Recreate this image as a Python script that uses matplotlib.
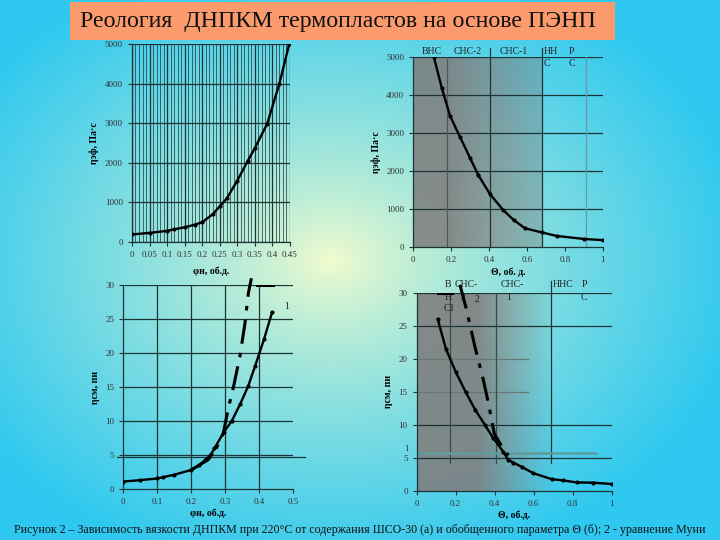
import numpy as np
import matplotlib
matplotlib.use("Agg")
import matplotlib.pyplot as plt
from matplotlib.patches import Rectangle

plt.rcParams['font.family'] = ['Liberation Serif', 'DejaVu Serif']

# --- data ---
phi_a = [0, 0.05, 0.1, 0.12, 0.15, 0.18, 0.2, 0.23, 0.25, 0.27, 0.3, 0.33, 0.35, 0.385, 0.42, 0.448]
eta_a = [190, 230, 280, 320, 370, 440, 500, 700, 900, 1100, 1550, 2050, 2370, 2980, 4000, 5000]

theta_b = [0.109, 0.15, 0.194, 0.246, 0.3, 0.343, 0.405, 0.475, 0.53, 0.59, 0.68, 0.757, 0.9, 1.0]
eta_b = [5000, 4200, 3460, 2910, 2350, 1900, 1400, 980, 720, 500, 390, 300, 220, 190]

phi_c = [0, 0.049, 0.1, 0.118, 0.15, 0.2, 0.224, 0.244, 0.259, 0.269, 0.297, 0.32, 0.345, 0.369, 0.389, 0.415, 0.439]
rel_c = [1.1, 1.3, 1.55, 1.75, 2.1, 2.8, 3.5, 4.4, 5.1, 6.0, 8.4, 10.0, 12.5, 15.2, 18.1, 22.0, 26.0]
phi_mooney = [0.2, 0.25, 0.27, 0.295, 0.31, 0.325, 0.344, 0.359, 0.369, 0.378]
rel_mooney = [2.8, 4.3, 5.5, 8.2, 11.9, 15.0, 19.5, 24.4, 28.8, 31.0]

theta_d = [0.108, 0.15, 0.2, 0.251, 0.3, 0.35, 0.393, 0.444, 0.47, 0.496, 0.542, 0.598, 0.692, 0.752, 0.82, 0.906, 1.0]
rel_d = [26.0, 21.5, 18.05, 15.0, 12.3, 10.0, 8.0, 5.95, 4.7, 4.3, 3.6, 2.7, 1.8, 1.6, 1.3, 1.26, 1.06]
theta_mooney = [0.222, 0.256, 0.299, 0.342, 0.368, 0.398, 0.427, 0.47]
rel_mooney_d = [31.2, 27.4, 21.8, 16.8, 13.3, 8.7, 7.2, 5.4]

xt_a = [0, 0.05, 0.1, 0.15, 0.2, 0.25, 0.3, 0.35, 0.4, 0.45]
xt_a_lbl = ['0', '0.05', '0.1', '0.15', '0.2', '0.25', '0.3', '0.35', '0.4', '0.45']
xt_c = [0, 0.1, 0.2, 0.3, 0.4, 0.5]
xt_c_lbl = ['0', '0.1', '0.2', '0.3', '0.4', '0.5']
xt_b = [0, 0.2, 0.4, 0.6, 0.8, 1.0]
xt_b_lbl = ['0', '0.2', '0.4', '0.6', '0.8', '1']

title = 'Реология  ДНПКМ термопластов на основе ПЭНП'
caption = ('Рисунок 2 – Зависимость вязкости ДНПКМ при 220°С от содержания ШСО-30 (а) '
           'и обобщенного параметра Θ (б); 2 - уравнение Муни')

fig = plt.figure(figsize=(7.2, 5.4), dpi=100)

# background radial gradient
bg = fig.add_axes([0, 0, 1, 1], zorder=-10)
yy, xx = np.mgrid[0:540, 0:720]
r = np.sqrt(((xx - 330) / 420.0) ** 2 + ((yy - 260) / 320.0) ** 2)
t = np.clip(r, 0, 1) ** 0.8
c_in = np.array([245, 252, 205]) / 255.0
c_out = np.array([46, 200, 240]) / 255.0
img = c_in[None, None, :] * (1 - t[..., None]) + c_out[None, None, :] * t[..., None]
bg.imshow(img, aspect='auto', extent=[0, 1, 0, 1])
bg.set_axis_off()

# title box
fig.patches.append(Rectangle((0.097, 0.926), 0.757, 0.070, transform=fig.transFigure,
                             facecolor='#fb9a6c', edgecolor='none', zorder=1))
fig.text(0.111, 0.961, title, fontsize=17.2, va='center', ha='left', color='#111111')
fig.text(0.5, 0.018, caption, fontsize=8.6, ha='center', va='center', color='#111111')

gcol = '#1c3436'
tick_kw = dict(labelsize=6.5, labelcolor='#333333', length=3, width=0.8, color=gcol)


def style(ax):
    for s in ['top', 'right']:
        ax.spines[s].set_visible(False)
    for s in ['left', 'bottom']:
        ax.spines[s].set_color(gcol)
        ax.spines[s].set_linewidth(0.9)
    ax.tick_params(**tick_kw)
    ax.set_facecolor('none')


def shade(ax, x1, ymax, a0, a1, flat=0.0):
    # grey band, solid up to `flat` (fraction of width), then fading
    n = 200
    u = np.linspace(0, 1, n)
    k = np.clip((u - flat) / (1 - flat), 0, 1)
    al = a0 + (a1 - a0) * k
    rgba = np.zeros((1, n, 4))
    rgba[..., :3] = 0.5
    rgba[0, :, 3] = al
    ax.imshow(rgba, aspect='auto', extent=[0, x1, 0, ymax], zorder=0, interpolation='bilinear')


# --- (a) top-left ---
ax1 = fig.add_axes([0.1833, 0.5519, 0.2194, 0.3667])
style(ax1)
ax1.set_xlim(0, 0.45)
ax1.set_ylim(0, 5000)
ax1.set_xticks(xt_a)
ax1.set_xticklabels(xt_a_lbl)
ax1.set_yticks([0, 1000, 2000, 3000, 4000, 5000])
ax1.set_xticks(np.arange(0, 0.451, 0.01), minor=True)
ax1.tick_params(which='minor', length=0)
ax1.grid(True, which='major', color=gcol, lw=0.9)
ax1.grid(True, which='minor', axis='x', color=gcol, lw=0.5)
ax1.plot(phi_a, eta_a, color='black', lw=1.7, marker='o', ms=2, zorder=5)
ax1.set_ylabel('ηэф, Па·с', fontsize=7, fontweight='bold', labelpad=4)
ax1.text(0.5, -0.16, 'φн, об.д.', transform=ax1.transAxes, ha='center', fontsize=7, fontweight='bold')

# --- (b) top-right ---
ax2 = fig.add_axes([0.574, 0.542, 0.263, 0.352])
style(ax2)
ax2.set_xlim(0, 1)
ax2.set_ylim(0, 5000)
shade(ax2, 0.68, 5000, 0.88, 0.4, flat=0.3)
ax2.set_xticks(xt_b)
ax2.set_xticklabels(xt_b_lbl)
ax2.set_yticks([0, 1000, 2000, 3000, 4000, 5000])
for yv in [1000, 2000, 3000, 4000, 5000]:
    ax2.axhline(yv, color=gcol, lw=0.9, zorder=1)
ax2.axvline(0.18, color='#555555', lw=0.9, zorder=1)
ax2.axvline(0.91, color='#6a9a9a', lw=0.9, zorder=1)
for xv in [0.405, 0.68]:
    ax2.plot([xv, xv], [0, 1.05], color=gcol, lw=0.9, transform=ax2.get_xaxis_transform(),
             clip_on=False, zorder=1)
ax2.plot(theta_b, eta_b, color='black', lw=1.7, marker='o', ms=2, zorder=5)
ax2.set_ylabel('ηэф, Па·с', fontsize=7, fontweight='bold', labelpad=4)
ax2.set_xlabel('Θ, об. д.', fontsize=7, fontweight='bold', labelpad=2)
tr2 = ax2.get_xaxis_transform()
lab_kw = dict(fontsize=7, color='#222222', transform=tr2, va='bottom')
ax2.text(0.1, 1.005, 'ВНС', ha='center', **lab_kw)
ax2.text(0.285, 1.005, 'СНС-2', ha='center', **lab_kw)
ax2.text(0.53, 1.005, 'СНС-1', ha='center', **lab_kw)
ax2.text(0.69, 1.005, 'НН', ha='left', **lab_kw)
ax2.text(0.69, 0.945, 'С', ha='left', **lab_kw)
ax2.text(0.82, 1.005, 'Р', ha='left', **lab_kw)
ax2.text(0.82, 0.945, 'С', ha='left', **lab_kw)

# --- (c) bottom-left ---
ax3 = fig.add_axes([0.1713, 0.0944, 0.2353, 0.3778])
style(ax3)
ax3.set_xlim(0, 0.5)
ax3.set_ylim(0, 30)
ax3.set_xticks(xt_c)
ax3.set_xticklabels(xt_c_lbl)
ax3.set_yticks([0, 5, 10, 15, 20, 25, 30])
for yv in [5, 10, 15, 20, 25, 30]:
    ax3.axhline(yv, color=gcol, lw=0.9, zorder=1)
for xv in [0.1, 0.2, 0.3, 0.4]:
    ax3.axvline(xv, color=gcol, lw=0.9, zorder=1)
ax3.plot([-0.02, 0.535], [4.65, 4.65], color=gcol, lw=0.9, clip_on=False, zorder=1)
ax3.plot(phi_mooney, rel_mooney, color='black', lw=2.2, ls=(0, (8, 3, 1.5, 3)), clip_on=False, zorder=4)
ax3.plot([0.394, 0.441], [30, 30], color='black', lw=2.2, zorder=4)
ax3.plot(phi_c, rel_c, color='black', lw=1.7, marker='o', ms=2, zorder=5)
ax3.text(0.475, 26.5, '1', fontsize=7, color='#222222')
ax3.set_ylabel('ηсм, пи', fontsize=7, fontweight='bold', labelpad=4)
ax3.set_xlabel('φн, об.д.', fontsize=7, fontweight='bold', labelpad=2)

# --- (d) bottom-right ---
ax4 = fig.add_axes([0.5787, 0.0907, 0.2708, 0.3672])
style(ax4)
ax4.set_xlim(0, 1)
ax4.set_ylim(0, 30)
shade(ax4, 0.69, 30, 0.9, 0.05, flat=0.45)
ax4.set_xticks(xt_b)
ax4.set_xticklabels(xt_b_lbl)
ax4.set_yticks([0, 5, 10, 15, 20, 25, 30])
for yv in [5, 10, 25, 30]:
    ax4.axhline(yv, color=gcol, lw=0.9, zorder=1)
for yv in [15, 20]:
    ax4.plot([0, 0.57], [yv, yv], color='#667777', lw=0.9, zorder=1)
for xv in [0.171, 0.407]:
    ax4.plot([xv, xv], [4.3, 30], color='#3a4a4a', lw=0.9, zorder=1)
ax4.plot([0.69, 0.69], [4.3, 31.7], color=gcol, lw=0.9, clip_on=False, zorder=1)
ax4.plot([0, 0.92], [5.7, 5.7], color='#5f9c9c', lw=1.8, zorder=2)
ax4.text(-0.04, 6.1, '1', fontsize=6.5, color='#333333', ha='right')
ax4.plot(theta_mooney, rel_mooney_d, color='black', lw=2.2, ls=(0, (8, 3, 1.5, 3)), clip_on=False, zorder=4)
ax4.plot([0.108, 0.18], [30, 30], color='black', lw=2.2, zorder=4)
ax4.plot(theta_d, rel_d, color='black', lw=1.7, marker='o', ms=2, zorder=5)
ax4.set_ylabel('ηсм, пи', fontsize=7, fontweight='bold', labelpad=4)
ax4.set_xlabel('Θ, об.д.', fontsize=7, fontweight='bold', labelpad=2)
lab4 = dict(fontsize=7, color='#222222', va='center')
ax4.text(0.16, 31.3, 'В', ha='center', **lab4)
ax4.text(0.16, 29.3, 'Н', ha='center', **lab4)
ax4.text(0.17, 27.6, 'С1', ha='center', **lab4)
ax4.text(0.195, 31.3, 'СНС-', ha='left', **lab4)
ax4.text(0.24, 29.3, '2', ha='center', **lab4)
ax4.text(0.31, 29.0, '2', ha='center', **lab4)
ax4.text(0.49, 31.3, 'СНС-', ha='center', **lab4)
ax4.text(0.47, 29.3, '1', ha='center', **lab4)
ax4.text(0.70, 31.3, 'ННС', ha='left', **lab4)
ax4.text(0.86, 31.3, 'Р', ha='center', **lab4)
ax4.text(0.86, 29.3, 'С', ha='center', **lab4)

fig.savefig('out.png', dpi=100)
